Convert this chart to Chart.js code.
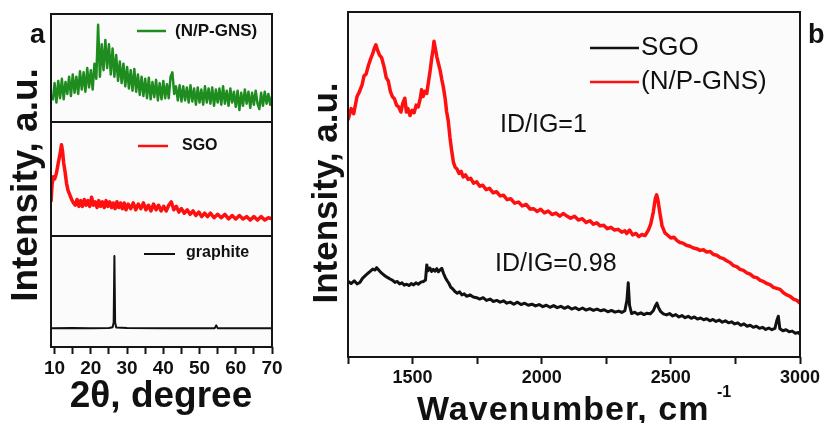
<!DOCTYPE html>
<html>
<head>
<meta charset="utf-8">
<title>XRD and Raman spectra</title>
<script src="https://cdn.jsdelivr.net/npm/chart.js@4.4.1/dist/chart.umd.min.js"></script>
<style>
  html, body { margin: 0; padding: 0; background: #fff; }
  #wrap { position: relative; width: 840px; height: 423px; }
  #wrap canvas { position: absolute; left: 0; top: 0; }
</style>
</head>
<body>
<div id="wrap">
  <canvas id="xrdNP" width="840" height="423"></canvas>
  <canvas id="xrdSGO" width="840" height="423"></canvas>
  <canvas id="xrdGraphite" width="840" height="423"></canvas>
  <canvas id="raman" width="840" height="423"></canvas>
</div>
<script>
// ---- (a) XRD, 2theta (degree) vs intensity (a.u., 0-100 per panel) ----
const npTheta = [9.5, 10, 10.5, 11, 11.5, 12, 12.5, 13, 13.5, 14, 14.5, 15, 15.5, 16, 16.5, 17, 17.5, 18, 18.5, 19,
  19.5, 20, 20.5, 21, 21.5, 22, 22.5, 23, 23.5, 24, 24.5, 25, 25.5, 26, 26.5, 27, 27.5, 28, 28.5, 29,
  29.5, 30, 30.5, 31, 31.5, 32, 32.5, 33, 33.5, 34, 34.5, 35, 35.5, 36, 36.5, 37, 37.5, 38, 38.5, 39,
  39.5, 40, 40.5, 41, 41.5, 42, 42.5, 43, 43.5, 44, 44.5, 45, 45.5, 46, 46.5, 47, 47.5, 48, 48.5, 49,
  49.5, 50, 50.5, 51, 51.5, 52, 52.5, 53, 53.5, 54, 54.5, 55, 55.5, 56, 56.5, 57, 57.5, 58, 58.5, 59,
  59.5, 60, 60.5, 61, 61.5, 62, 62.5, 63, 63.5, 64, 64.5, 65, 65.5, 66, 66.5, 67, 67.5, 68, 68.5, 69,
  69.5, 70];
const npCounts = [20, 36, 18, 38, 22, 40, 21, 37, 26, 42, 24, 44, 27, 42, 26, 47, 30, 46, 28, 50,
  32, 48, 30, 54, 40, 90, 42, 72, 48, 76, 50, 72, 44, 68, 42, 62, 38, 56, 36, 54,
  33, 51, 31, 48, 29, 49, 28, 44, 25, 42, 24, 40, 22, 41, 21, 37, 23, 39, 20, 36,
  21, 38, 22, 35, 22, 42, 46, 26, 33, 20, 34, 19, 33, 20, 32, 18, 34, 19, 31, 16,
  32, 18, 30, 16, 33, 18, 31, 17, 32, 15, 30, 18, 31, 16, 33, 17, 29, 15, 31, 18,
  28, 14, 29, 11, 27, 15, 30, 17, 28, 13, 27, 16, 29, 17, 12, 27, 15, 28, 17, 26,
  16, 24];

const sgoTheta = [9, 9.3, 9.6, 10, 10.5, 11, 11.5, 11.9, 12.2, 12.5, 12.9, 13.3, 13.7, 14.2, 14.7, 15.2, 15.7, 16.2, 16.7, 17.2,
  17.7, 18.2, 18.7, 19.2, 19.7, 20.2, 20.7, 21.2, 21.7, 22.2, 22.7, 23.2, 23.7, 24.2, 24.7, 25.2, 25.7, 26.2, 26.7, 27.2,
  27.7, 28.2, 28.7, 29.2, 29.7, 30.3, 31, 31.7, 32.4, 33.1, 33.8, 34.5, 35.2, 35.9, 36.6, 37.3, 38, 38.7, 39.4, 40.1,
  40.8, 41.5, 42.2, 42.9, 43.6, 44.3, 45, 45.8, 46.6, 47.4, 48.2, 49, 49.8, 50.6, 51.4, 52.2, 53, 54, 55, 56,
  57, 58, 59, 60, 61, 62, 63, 64, 65, 66, 67, 68, 69, 70];
const sgoCounts = [30, 45, 52, 50, 55, 64, 72, 80, 74, 64, 56, 46, 40, 36, 32, 29, 27, 32, 26, 31,
  26, 32, 27, 31, 26, 34, 27, 30, 25, 31, 26, 30, 25, 31, 26, 30, 25, 29, 24, 30,
  25, 29, 24, 29, 23, 28, 24, 29, 23, 28, 24, 29, 23, 27, 22, 28, 23, 27, 22, 26,
  22, 27, 30, 23, 26, 21, 24, 20, 23, 19, 22, 18, 21, 17, 20, 17, 20, 16, 19, 16,
  19, 15, 18, 15, 18, 15, 17, 14, 17, 14, 17, 14, 16, 15];

const graphiteTheta = [9, 15, 20, 25, 26, 26.3, 26.5, 26.7, 27, 30, 40, 50, 54.2, 54.6, 55, 60, 70];
const graphiteCounts = [17, 17.2, 17, 17.2, 17.8, 22, 82, 22, 17.6, 17.2, 17, 17, 17, 19.5, 17, 17, 17];

const xrdTicks = [10, 15, 20, 25, 30, 35, 40, 45, 50, 55, 60, 65, 70];
const xrdTickLabels = ['10', '', '20', '', '30', '', '40', '', '50', '', '60', '', '70'];

// ---- (b) Raman, wavenumber (cm-1) vs intensity (a.u., 0-100) ----
const npWave = [1250, 1262, 1272, 1285, 1295, 1305, 1312, 1320, 1329, 1338, 1346, 1352, 1358, 1364, 1372, 1380, 1390, 1398, 1406, 1414,
  1422, 1430, 1438, 1446, 1455, 1462, 1470, 1476, 1482, 1490, 1498, 1506, 1514, 1522, 1530, 1535, 1541, 1548, 1555, 1562,
  1568, 1574, 1579, 1583, 1588, 1594, 1600, 1607, 1613, 1619, 1626, 1632, 1638, 1645, 1651, 1658, 1665, 1672, 1680, 1688,
  1696, 1705, 1715, 1725, 1736, 1748, 1760, 1772, 1785, 1798, 1812, 1825, 1839, 1852, 1866, 1880, 1895, 1910, 1925, 1940,
  1955, 1968, 1982, 1996, 2010, 2025, 2040, 2055, 2070, 2083, 2097, 2112, 2127, 2142, 2157, 2172, 2187, 2200, 2213, 2226,
  2240, 2254, 2268, 2282, 2296, 2310, 2322, 2329, 2340, 2352, 2365, 2376, 2388, 2400, 2413, 2422, 2432, 2440, 2445, 2450,
  2458, 2466, 2477, 2488, 2500, 2512, 2523, 2535, 2547, 2560, 2574, 2587, 2600, 2613, 2626, 2639, 2652, 2665, 2678, 2691,
  2704, 2716, 2729, 2742, 2755, 2768, 2781, 2794, 2807, 2820, 2833, 2846, 2858, 2871, 2884, 2897, 2910, 2923, 2936, 2949,
  2962, 2975, 2988, 3000];
const npRaman = [68.7, 72, 70.5, 75.5, 77, 79, 81.5, 82, 84.5, 86.5, 88, 89.5, 90.5, 89, 87.5, 86.8, 84, 81, 80, 77,
  75.5, 74.8, 73, 72.5, 71, 73.5, 75, 71, 72, 70, 71.5, 70.8, 73, 72.5, 75, 77.5, 75.5, 77, 76.4, 80,
  83, 86.5, 89, 91.5, 89.5, 87, 85.1, 83, 80.5, 78.3, 75, 71, 68.5, 63.5, 60, 56.5, 55, 54.5, 53.2, 53.8,
  52.2, 52.8, 51.5, 51.8, 50.4, 50.8, 49.5, 49.8, 48.5, 48.9, 47.6, 47.9, 46.7, 46.9, 45.6, 45.9, 44.6, 44.9, 43.8, 44.2,
  42.9, 43, 42.2, 42.8, 41.8, 42.3, 41.3, 41.7, 40.8, 41.6, 40.9, 40.2, 40.8, 39.7, 40.1, 39, 39.5, 38.5, 38.9, 38,
  38.2, 37.2, 37.6, 36.8, 37, 36.2, 36.6, 35.8, 36.8, 35.4, 35.8, 34.9, 35.5, 35.2, 36.8, 38.5, 42, 46, 47, 45.5,
  41.5, 38, 36, 35.3, 34.5, 34.7, 33.8, 33.2, 33, 32.4, 32.1, 31.6, 31.4, 30.9, 31.1, 30.4, 30.6, 29.7, 29.5, 28.8,
  28.5, 27.9, 27.4, 26.5, 26.2, 25.4, 25.1, 24.4, 24, 23.2, 23, 22.2, 21.9, 21.3, 21, 20.2, 19.9, 19.6, 18.6, 18,
  17.6, 16.8, 16.4, 15.6];

const sgoWave = [1250, 1262, 1274, 1285, 1296, 1306, 1316, 1326, 1336, 1346, 1355, 1361, 1368, 1376, 1385, 1395, 1404, 1413, 1423, 1432,
  1441, 1450, 1459, 1468, 1477, 1486, 1495, 1504, 1513, 1522, 1532, 1542, 1550, 1555, 1560, 1567, 1574, 1580, 1587, 1594,
  1600, 1606, 1613, 1620, 1627, 1634, 1641, 1648, 1655, 1664, 1673, 1682, 1691, 1700, 1710, 1722, 1735, 1748, 1760, 1773,
  1786, 1800, 1813, 1826, 1839, 1852, 1865, 1878, 1892, 1906, 1920, 1934, 1948, 1962, 1976, 1990, 2004, 2018, 2032, 2046,
  2060, 2074, 2088, 2102, 2116, 2130, 2144, 2158, 2172, 2186, 2200, 2214, 2228, 2242, 2256, 2270, 2284, 2298, 2310, 2322,
  2330, 2335, 2340, 2348, 2360, 2372, 2384, 2396, 2408, 2420, 2432, 2440, 2446, 2452, 2460, 2471, 2483, 2495, 2507, 2519,
  2531, 2543, 2555, 2567, 2579, 2591, 2603, 2615, 2627, 2639, 2651, 2663, 2675, 2687, 2699, 2711, 2723, 2735, 2747, 2759,
  2771, 2783, 2795, 2807, 2819, 2831, 2843, 2855, 2867, 2879, 2891, 2903, 2910, 2916, 2922, 2934, 2946, 2958, 2970, 2982,
  2994, 3000];
const sgoRaman = [22, 21.3, 22.1, 21.2, 21.6, 22.8, 23.5, 24.2, 24.8, 25.5, 25.2, 25.9, 25.3, 24.6, 24, 23.4, 23, 22.6, 22.2, 21.6,
  21.9, 21.2, 21.5, 20.8, 21.1, 20.7, 21.3, 20.9, 21.5, 21.1, 21.7, 21.9, 22.3, 26.7, 25, 25.8, 24.8, 25.4, 24.9, 25.6,
  24.7, 25.2, 25.7, 24.2, 23, 22.1, 21.3, 20.2, 19.8, 19, 18.5, 18.9, 18, 18.3, 17.6, 18, 17.4, 17.2, 16.8, 17.2,
  16.4, 16.8, 16.1, 16.4, 15.9, 16.3, 15.6, 15.9, 15.3, 15.9, 15.2, 15.6, 15, 15.3, 14.8, 15.2, 14.6, 15, 14.4, 14.9,
  14.3, 14.7, 14.1, 14.6, 13.9, 14.3, 13.7, 14.2, 13.6, 14, 13.5, 13.9, 13.4, 13.7, 13.1, 13.5, 13, 13.3, 12.9, 13.4,
  16.5, 21.5, 15, 12.6, 13, 12.4, 12.8, 12.3, 12.7, 12.5, 13.4, 14.8, 15.6, 14.4, 13.2, 12.5, 12.2, 12.6, 11.9, 12.3,
  11.6, 12, 11.4, 11.8, 11.2, 11.6, 11, 11.3, 10.8, 11.1, 10.5, 10.9, 10.3, 10.7, 10.1, 10.5, 9.9, 10.2, 9.6, 9.9,
  9.2, 9.6, 8.9, 9.2, 8.6, 8.9, 8.3, 8.6, 8, 8.4, 7.9, 8.3, 10.5, 11.8, 8.2, 7.6, 7.9, 7.3, 7.5, 6.9,
  7.1, 6.6];

const ramanTicks = [1250, 1500, 1750, 2000, 2250, 2500, 2750, 3000];
const ramanTickLabels = ['', '1500', '', '2000', '', '2500', '', '3000'];

const FONT = "'Liberation Sans', Arial, Helvetica, sans-serif";
Chart.defaults.font.family = FONT;
Chart.defaults.color = '#111';

const pts = (xs, ys) => xs.map((x, i) => ({ x: x, y: ys[i] }));

// plot background + closed frame around the chart area
const framePlugin = {
  id: 'frame',
  beforeDraw(chart) {
    const { ctx, chartArea: a } = chart;
    ctx.save();
    ctx.fillStyle = '#fbfbfb';
    ctx.fillRect(a.left, a.top, a.width, a.height);
    ctx.restore();
  },
  afterDraw(chart) {
    const { ctx, chartArea: a } = chart;
    ctx.save();
    ctx.strokeStyle = '#151515';
    ctx.lineWidth = 2;
    ctx.strokeRect(a.left, a.top, a.width, a.height);
    ctx.restore();
  }
};

// free text and legend keys placed on the canvas
const notesPlugin = {
  id: 'notes',
  afterDraw(chart, args, opts) {
    const ctx = chart.ctx;
    (opts.keys || []).forEach(k => {
      const ds = chart.data.datasets[k.ds];
      ctx.save();
      ctx.strokeStyle = ds.borderColor;
      ctx.lineWidth = k.lw || 2;
      ctx.beginPath();
      ctx.moveTo(k.x1, k.y);
      ctx.lineTo(k.x2, k.y);
      ctx.stroke();
      ctx.fillStyle = '#111';
      ctx.font = k.font;
      ctx.textBaseline = 'middle';
      ctx.fillText(ds.label, k.tx, k.y + (k.dy || 0));
      ctx.restore();
    });
    (opts.texts || []).forEach(t => {
      ctx.save();
      ctx.fillStyle = t.color || '#111';
      ctx.font = t.font;
      if (t.spacing) ctx.letterSpacing = t.spacing;
      ctx.textAlign = t.align || 'left';
      ctx.textBaseline = t.baseline || 'alphabetic';
      ctx.translate(t.x, t.y);
      if (t.rotate) ctx.rotate(t.rotate);
      ctx.fillText(t.text, 0, 0);
      ctx.restore();
    });
  }
};

function xAxis(min, max, ticks, labels, show, fontSize, height) {
  return {
    type: 'linear',
    min: min,
    max: max,
    display: show,
    afterBuildTicks: s => { s.ticks = ticks.map(v => ({ value: v })); },
    afterFit: s => { s.height = height; },
    grid: { drawOnChartArea: false, drawTicks: true, tickLength: 7, tickWidth: 2, tickColor: '#151515' },
    border: { display: false },
    ticks: {
      autoSkip: false,
      maxRotation: 0,
      padding: 3,
      color: '#111',
      font: { size: fontSize, weight: 'bold' },
      callback: (v, i) => labels[i]
    }
  };
}

function makeChart(id, datasets, padding, x, notes) {
  return new Chart(document.getElementById(id), {
    type: 'line',
    data: { datasets: datasets },
    options: {
      responsive: false,
      animation: false,
      devicePixelRatio: 1,
      layout: { padding: padding },
      parsing: false,
      elements: { point: { radius: 0 }, line: { tension: 0, borderJoinStyle: 'round' } },
      scales: {
        x: x,
        y: { type: 'linear', min: 0, max: 100, display: false }
      },
      plugins: { legend: { display: false }, tooltip: { enabled: false }, notes: notes }
    },
    plugins: [framePlugin, notesPlugin]
  });
}

// (a) top: N/P-GNS
makeChart('xrdNP',
  [{ label: '(N/P-GNS)', data: pts(npTheta, npCounts), borderColor: '#1f8c1f', borderWidth: 2.5 }],
  { left: 51, right: 568, top: 14, bottom: 301 },
  xAxis(9, 70, xrdTicks, xrdTickLabels, false, 19, 0),
  {
    keys: [{ ds: 0, x1: 137, x2: 166, y: 31, tx: 175, font: 'bold 17px ' + FONT, lw: 2.5 }],
    texts: [{ text: 'a', x: 30, y: 43, font: 'bold 27px ' + FONT }]
  });

// (a) middle: SGO
makeChart('xrdSGO',
  [{ label: 'SGO', data: pts(sgoTheta, sgoCounts), borderColor: '#ff1010', borderWidth: 3.5 }],
  { left: 51, right: 568, top: 122, bottom: 187 },
  xAxis(9, 70, xrdTicks, xrdTickLabels, false, 19, 0),
  {
    keys: [{ ds: 0, x1: 138, x2: 168, y: 146, tx: 182, font: 'bold 16px ' + FONT, lw: 2.5 }],
    texts: [{ text: 'Intensity, a.u.', x: 27, y: 185, font: 'bold 37px ' + FONT, align: 'center', baseline: 'middle', rotate: -Math.PI / 2 }]
  });

// (a) bottom: graphite
makeChart('xrdGraphite',
  [{ label: 'graphite', data: pts(graphiteTheta, graphiteCounts), borderColor: '#111', borderWidth: 2 }],
  { left: 51, right: 568, top: 236, bottom: 36 },
  xAxis(9, 70, xrdTicks, xrdTickLabels, true, 19, 40),
  {
    keys: [{ ds: 0, x1: 144, x2: 175, y: 254, tx: 186, font: 'bold 16px ' + FONT, lw: 2, dy: -1 }],
    texts: [{ text: '2\u03b8, degree', x: 161, y: 407, font: 'bold 37px ' + FONT, align: 'center' }]
  });

// (b) Raman
makeChart('raman',
  [
    { label: 'SGO', data: pts(sgoWave, sgoRaman), borderColor: '#111', borderWidth: 3 },
    { label: '(N/P-GNS)', data: pts(npWave, npRaman), borderColor: '#ff1010', borderWidth: 3.5 }
  ],
  { left: 348, right: 40, top: 12, bottom: 26 },
  xAxis(1250, 3000, ramanTicks, ramanTickLabels, true, 18, 40),
  {
    keys: [
      { ds: 0, x1: 590, x2: 639, y: 48, tx: 641, font: '26px ' + FONT, lw: 2.5 },
      { ds: 1, x1: 590, x2: 639, y: 82, tx: 641, font: '26px ' + FONT, lw: 2.5 }
    ],
    texts: [
      { text: 'b', x: 808, y: 43, font: 'bold 27px ' + FONT },
      { text: 'ID/IG=1', x: 500, y: 132, font: '25px ' + FONT },
      { text: 'ID/IG=0.98', x: 495, y: 271, font: '25px ' + FONT },
      { text: 'Intensity, a.u.', x: 327, y: 193, font: 'bold 35px ' + FONT, align: 'center', baseline: 'middle', rotate: -Math.PI / 2 },
      { text: 'Wavenumber, cm', x: 417, y: 420, font: 'bold 34px ' + FONT, spacing: '1px' },
      { text: '-1', x: 717, y: 397, font: 'bold 16px ' + FONT }
    ]
  });
</script>
</body>
</html>
